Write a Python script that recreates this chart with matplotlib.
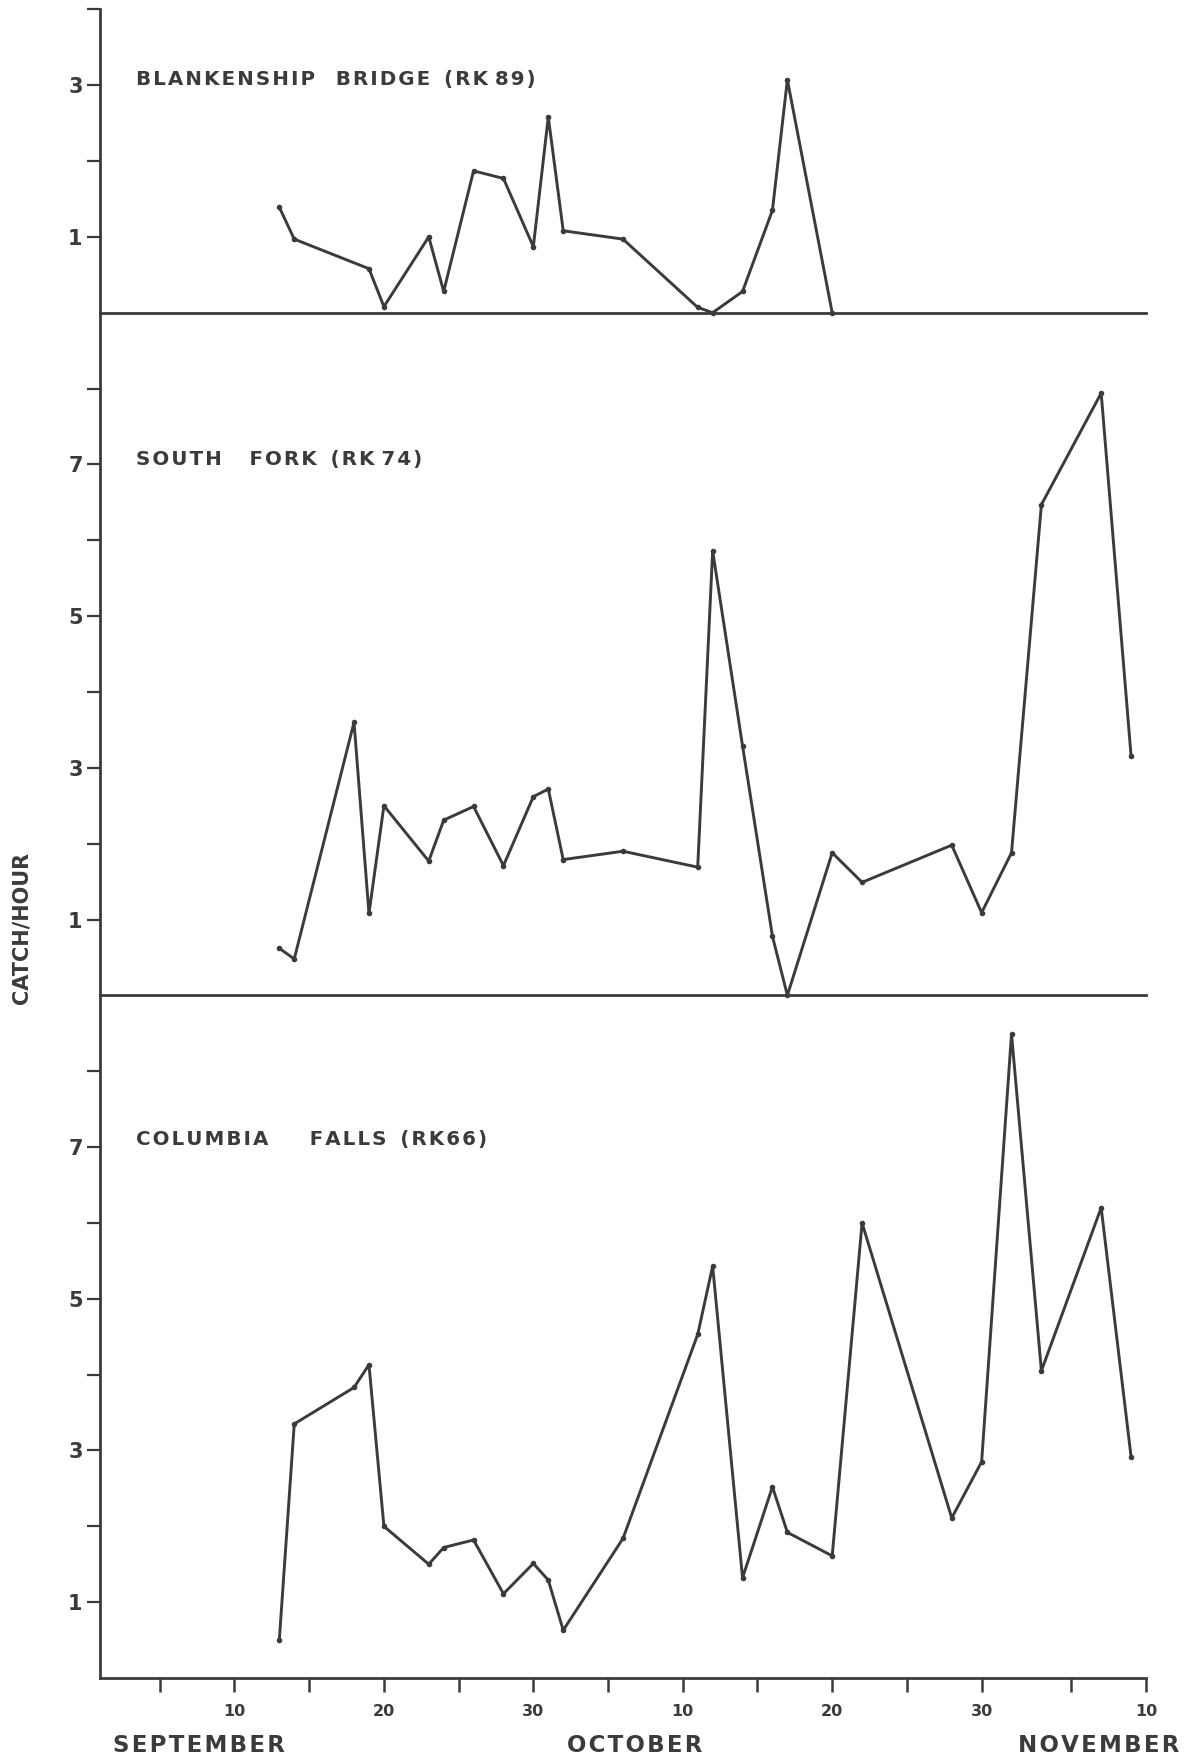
import matplotlib.pyplot as plt

plt.rcParams['font.family'] = ['DejaVu Sans']
plt.rcParams['font.weight'] = 'bold'

# day number: Sept d -> d, Oct d -> 30 + d, Nov d -> 61 + d
blank_days = [13, 14, 19, 20, 23, 24, 26, 28, 30, 31, 32, 36, 41, 42, 44, 46, 47, 50]
blank_catch = [1.39, 0.97, 0.58, 0.08, 1.0, 0.28, 1.87, 1.77, 0.87, 2.58, 1.08, 0.97,
               0.07, 0.0, 0.28, 1.35, 3.07, 0.0]

south_days = [13, 14, 18, 19, 20, 23, 24, 26, 28, 30, 31, 32, 36, 41, 42, 44, 46, 47,
              50, 52, 58, 60, 62, 64, 68, 70]
south_catch = [0.62, 0.48, 3.6, 1.08, 2.5, 1.77, 2.31, 2.49, 1.71, 2.62, 2.72, 1.79, 1.9,
               1.69, 5.86, 3.29, 0.78, 0.0, 1.88, 1.49, 1.98, 1.09, 1.88, 6.47, 7.94, 3.16]

colum_days = [13, 14, 18, 19, 20, 23, 24, 26, 28, 30, 31, 32, 36, 41, 42, 44, 46, 47,
              50, 52, 58, 60, 62, 64, 68, 70]
colum_catch = [0.5, 3.35, 3.83, 4.13, 2.0, 1.5, 1.72, 1.82, 1.11, 1.51, 1.29, 0.63, 1.84,
               4.53, 5.43, 1.32, 2.52, 1.92, 1.61, 6.0, 2.11, 2.85, 8.49, 4.05, 6.2, 2.92]

titles = ["BLANKENSHIP   BRIDGE  (RK 89)", "SOUTH    FORK  (RK 74)", "COLUMBIA      FALLS  (RK66)"]
tick_days = [5, 10, 15, 20, 25, 30, 35, 40, 45, 50, 55, 60, 66, 71]
tick_labels = ["", "10", "", "20", "", "30", "", "10", "", "20", "", "30", "", "10"]
months = ["SEPTEMBER", "OCTOBER", "NOVEMBER"]

ink = "#3b3b3b"
W, H = 1199, 1759
fig = plt.figure(figsize=(W / 100, H / 100), dpi=100)

left = 100 / W
width = 1046 / W
unit = 75.85
base = 1678


def spaced(s):
    # wide letter spacing like the original lettering
    out = ""
    for a, b in zip(s, s[1:] + " "):
        out += a
        if a != " " and b != " ":
            out += "\u200a"
    return out


def make_ax(bottom_px, top_val):
    y0 = (H - bottom_px) / H
    h = top_val * unit / H
    ax = fig.add_axes([left, y0, width, h])
    ax.patch.set_visible(False)
    ax.set_xlim(1, 71)
    ax.set_ylim(0, top_val)
    for s in ["top", "right"]:
        ax.spines[s].set_visible(False)
    for s in ["left", "bottom"]:
        ax.spines[s].set_linewidth(2.0)
        ax.spines[s].set_color(ink)
        ax.spines[s].set_capstyle("projecting")
    ax.tick_params(axis="y", direction="out", length=9.5, width=1.6, color=ink,
                   labelsize=15, labelcolor=ink, pad=3)
    return ax

ax1 = make_ax(base - 18 * unit, 4)
ax2 = make_ax(base - 9 * unit, 9)
ax3 = make_ax(base, 9)

# top panel
ax1.plot(blank_days, blank_catch, "-o", color=ink, lw=2.1, ms=3, clip_on=False)
ax1.set_yticks([1, 2, 3, 4])
ax1.set_yticklabels(["1", "", "3", ""])
ax1.text(3.4, 3.07, spaced(titles[0]), fontsize=14.3, color=ink, va="center")

# middle panel
ax2.plot(south_days, south_catch, "-o", color=ink, lw=2.1, ms=3, clip_on=False)
ax2.set_yticks(range(1, 9))
ax2.set_yticklabels(["1", "", "3", "", "5", "", "7", ""])
ax2.text(3.4, 7.07, spaced(titles[1]), fontsize=14.3, color=ink, va="center")

# bottom panel
ax3.plot(colum_days, colum_catch, "-o", color=ink, lw=2.1, ms=3, clip_on=False)
ax3.set_yticks(range(1, 9))
ax3.set_yticklabels(["1", "", "3", "", "5", "", "7", ""])
ax3.text(3.4, 7.1, spaced(titles[2]), fontsize=14.3, color=ink, va="center")

for ax in [ax1, ax2]:
    ax.set_xticks([])

ax3.set_xticks(tick_days)
ax3.set_xticklabels(tick_labels)
ax3.tick_params(axis="x", direction="out", length=10, width=1.8, color=ink,
                labelsize=11.5, labelcolor=ink, pad=9)

fig.text(199 / W, 1 - 1746 / H, spaced(months[0]), fontsize=16.5, color=ink, ha="center", va="center")
fig.text(635 / W, 1 - 1746 / H, spaced(months[1]), fontsize=16.5, color=ink, ha="center", va="center")
fig.text(1099 / W, 1 - 1746 / H, spaced(months[2]), fontsize=16.5, color=ink, ha="center", va="center")

fig.text(22 / W, 1 - 928 / H, "CATCH/HOUR", fontsize=15, color=ink, rotation=90,
         ha="center", va="center")

fig.savefig("out.png", dpi=100)
